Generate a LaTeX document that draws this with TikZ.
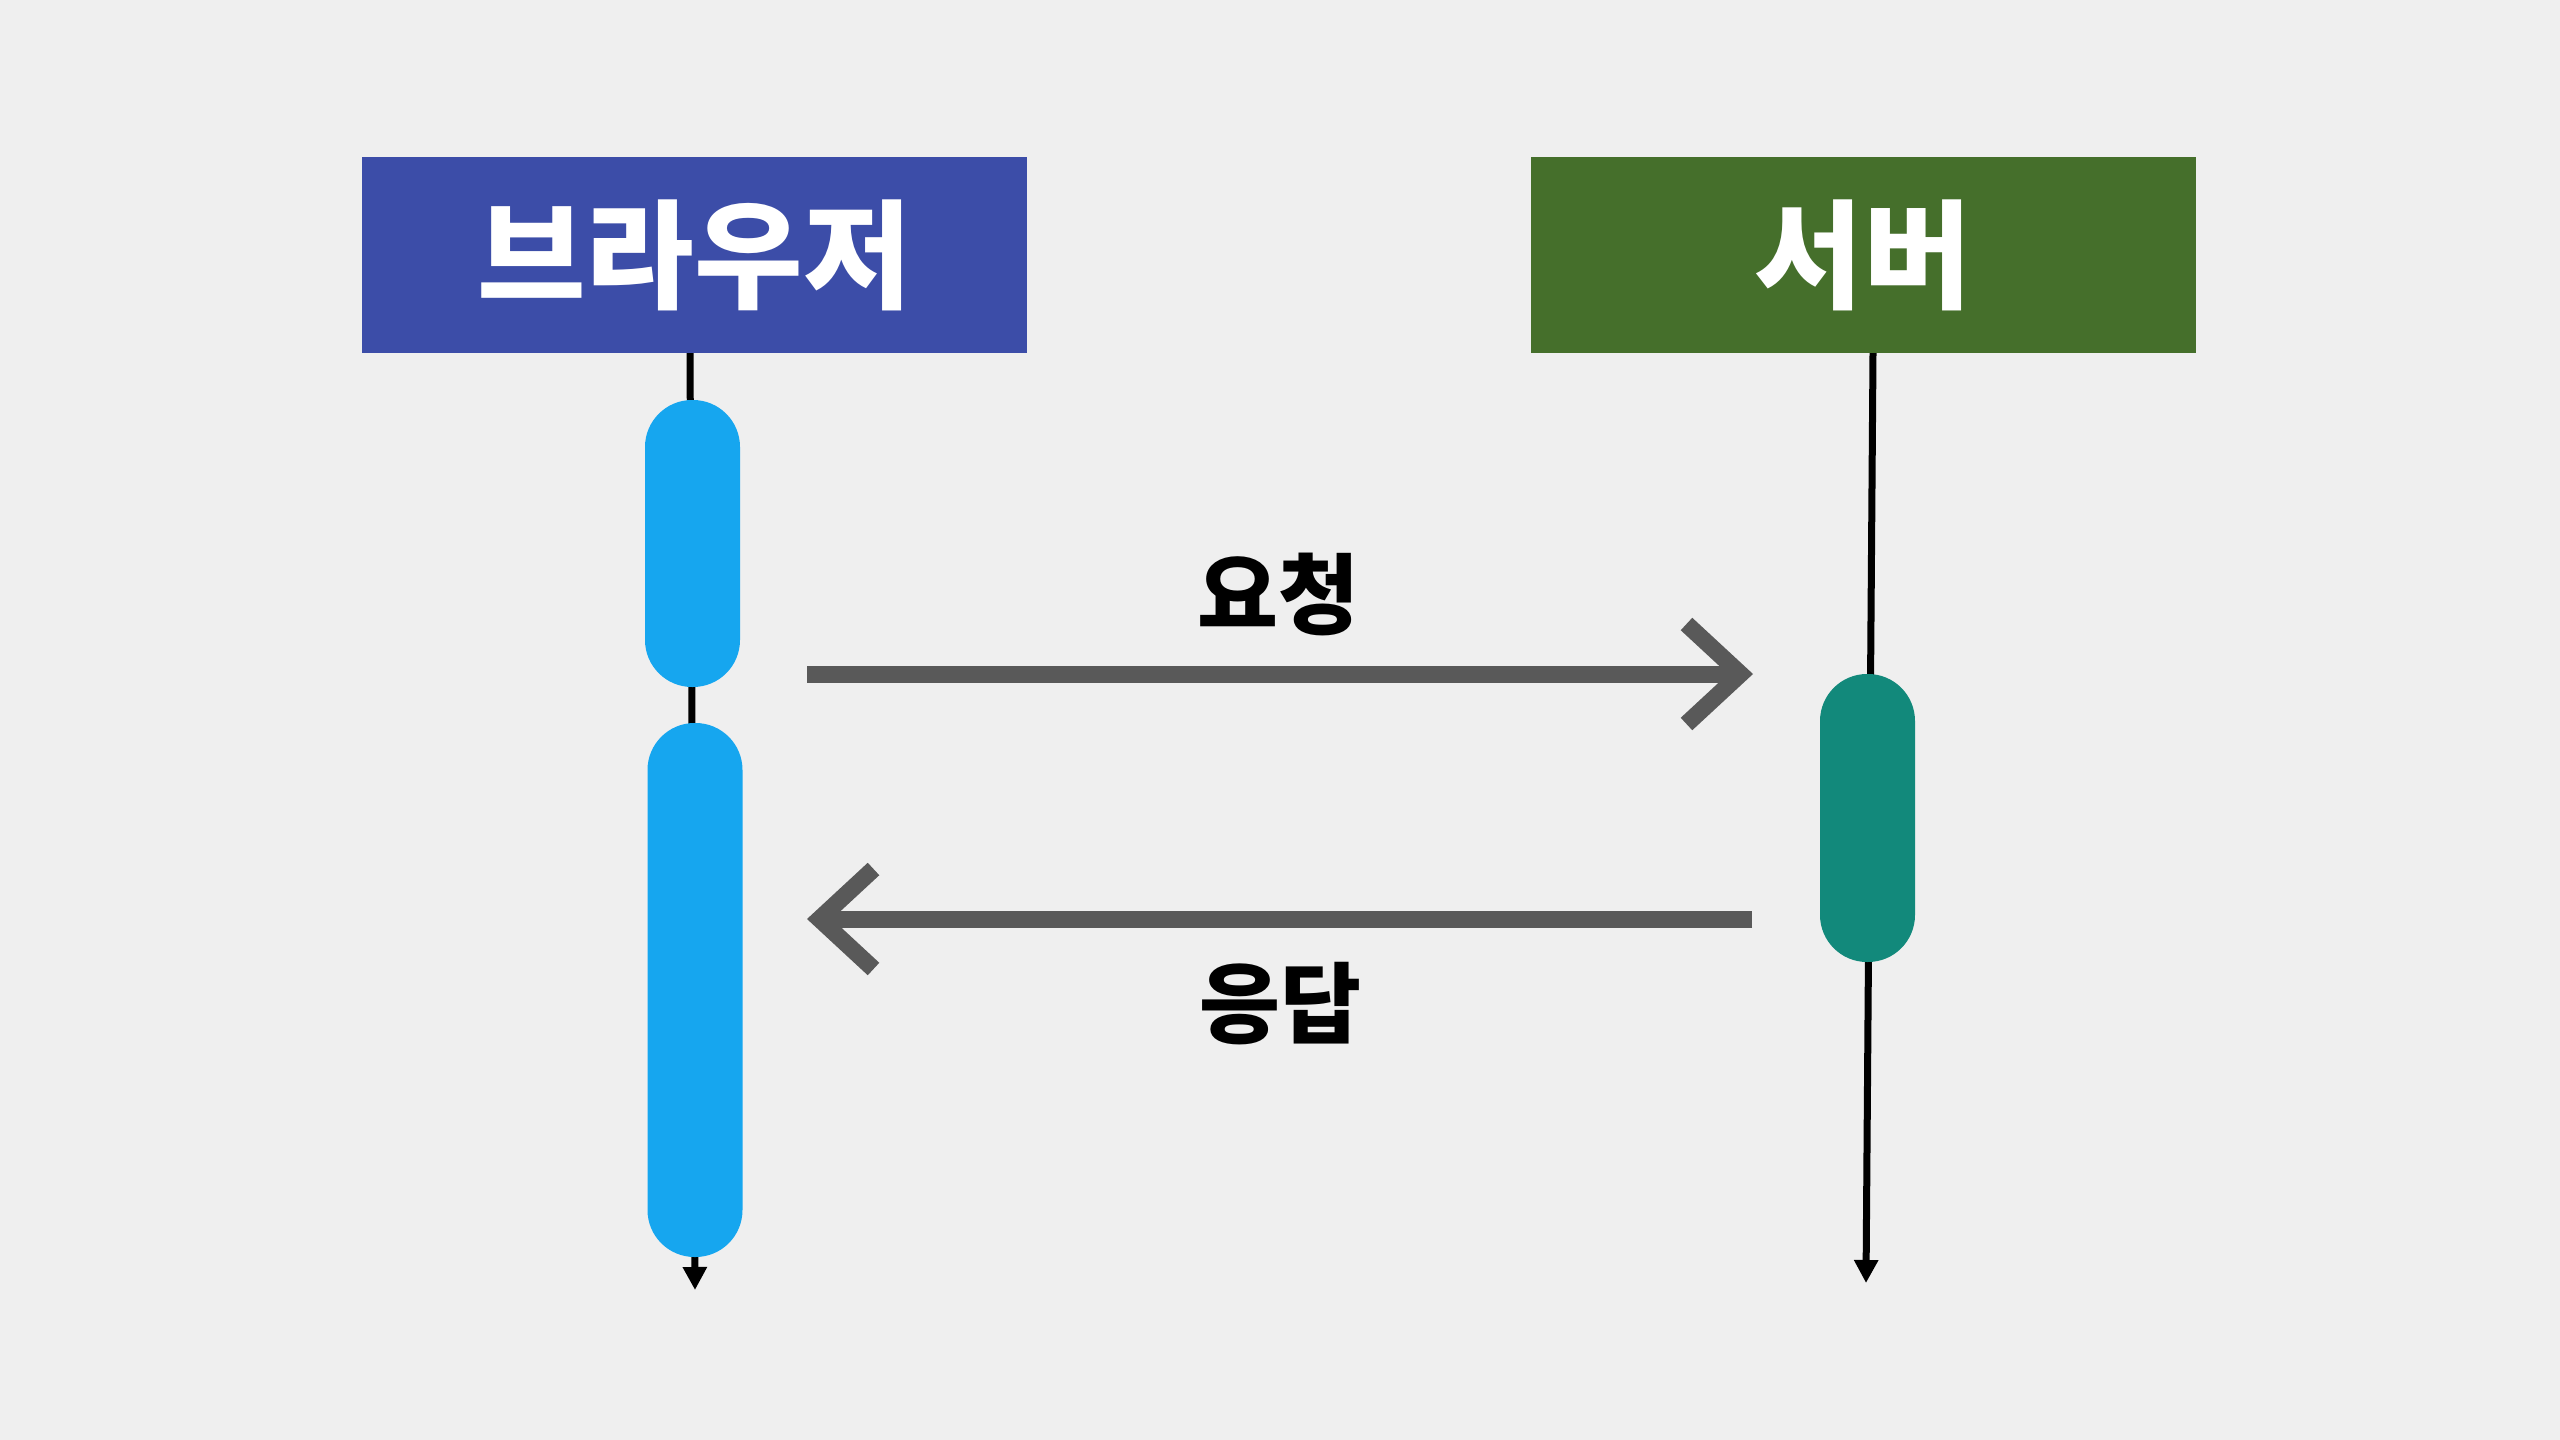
\documentclass[tikz,border=0pt]{standalone}
\usepackage{fontspec}
\newfontfamily\kr{Noto Sans CJK KR}
\usetikzlibrary{arrows.meta}
\definecolor{bg}{HTML}{EFEFEF}
\definecolor{hdrblue}{HTML}{3C4DA8}
\definecolor{hdrgreen}{HTML}{456F2B}
\definecolor{actblue}{HTML}{16A6EF}
\definecolor{actteal}{HTML}{12897B}
\definecolor{msggray}{HTML}{595959}
\tikzset{
  header/.style={fill=#1, minimum width=665pt, minimum height=196pt, inner sep=0pt,
     text=white, font=\kr\bfseries\fontsize{118}{126}\selectfont},
  actbar/.style={fill=#1, rounded corners=47pt, inner sep=0pt, minimum width=95pt},
  lifeline/.style={line width=7pt, black, -{Triangle[width=23pt,length=23pt]}},
  msg/.style={line width=17pt, msggray, -{Straight Barb[length=54pt,width=100pt]}},
  msglabel/.style={font=\kr\bfseries\fontsize{88}{94}\selectfont, text=black, inner sep=0pt}
}
\begin{document}
\begin{tikzpicture}[x=1pt,y=-1pt]
\fill[bg] (0,0) rectangle (2560,1440);
\useasboundingbox (0,0) rectangle (2560,1440);

\coordinate (btop) at (690,353);
\coordinate (bend) at (695,1290);
\coordinate (stop) at (1873,353);
\coordinate (send) at (1866,1283);
\draw[lifeline] (btop) -- (bend);
\draw[lifeline] (stop) -- (send);

\node[header=hdrblue] (browser) at (694.5,255) {브라우저};
\node[header=hdrgreen] (server) at (1863.5,255) {서버};

\node[actbar=actblue, minimum height=287pt] (b1) at (692.5,543.5) {};
\node[actbar=actblue, minimum height=534pt] (b2) at (695,990) {};
\node[actbar=actteal, minimum height=288pt] (s1) at (1867.5,818) {};

\coordinate (reqs) at (807,674);
\coordinate (reqe) at (1753,674);
\coordinate (ress) at (1752,919);
\coordinate (rese) at (807,919);
\draw[msg] (reqs) -- (reqe);
\draw[msg] (ress) -- (rese);

\node[msglabel] (lreq) at (1278,594) {요청};
\node[msglabel] (lres) at (1280,1004) {응답};
\end{tikzpicture}
\end{document}
